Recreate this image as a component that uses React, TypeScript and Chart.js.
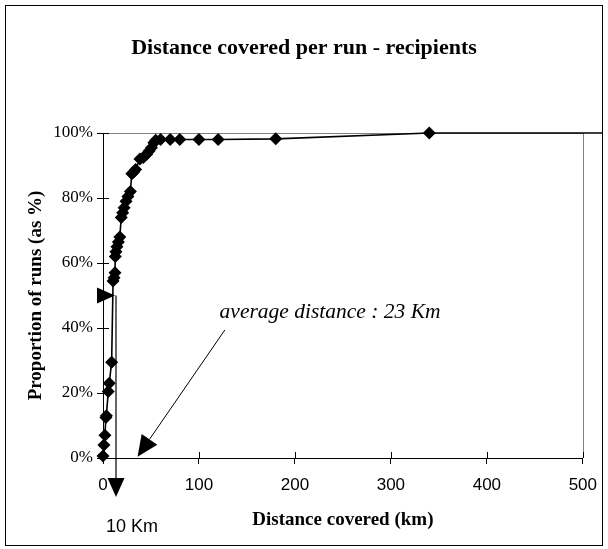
import React, { useEffect, useRef } from 'react';
import { Chart, registerables } from 'chart.js';

Chart.register(...registerables);

// ---- data ----
const distanceKm = [0, 1, 2, 3, 3.5, 5.5, 6.5, 9, 10.5, 11.5, 12.5, 12.8, 13.5, 14.5, 16, 17.5, 19, 20.5, 22, 24, 26, 28.5, 30, 32, 34, 38.5, 42, 45.5, 48, 50.5, 53, 55, 60, 70, 80, 100, 120, 180, 340, 520];
const cumulativePct = [0.6, 4, 7, 12.5, 13, 20.5, 23, 29.5, 54.5, 55.5, 57, 62, 63.5, 65, 66.5, 68, 74, 75.5, 77, 79, 80.5, 82, 87.5, 88, 88.8, 92, 92.5, 93.5, 94.5, 95.5, 97, 97.8, 98, 98, 98, 98, 98, 98.2, 100, 100];
const xTicks = [0, 100, 200, 300, 400, 500];
const yTicks = [0, 20, 40, 60, 80, 100];

const titleText = 'Distance covered per run - recipients';
const xTitle = 'Distance covered (km)';
const yTitle = 'Proportion of runs (as %)';
const avgLabel = 'average distance : 23 Km';
const medianLabel = '10 Km';

// annotation anchors in data units
const medianMarkKm = 12.5;
const medianPct = 50;
const avgArrowFrom = [127, 39.4];
const avgArrowTo = [36, 0.4];
const avgTextAt = [121.5, 43];

const W = 608;
const H = 549;

function tri(ctx: CanvasRenderingContext2D, pts: number[][]) {
  ctx.beginPath();
  ctx.moveTo(pts[0][0], pts[0][1]);
  ctx.lineTo(pts[1][0], pts[1][1]);
  ctx.lineTo(pts[2][0], pts[2][1]);
  ctx.closePath();
  ctx.fill();
}

const annotPlugin = {
  id: 'annot',
  beforeDatasetsDraw(chart: any) {
    const { ctx, chartArea: a } = chart;
    const xs = chart.scales.x;
    const ys = chart.scales.y;
    ctx.save();
    ctx.lineWidth = 1;
    ctx.strokeStyle = '#808080';
    ctx.beginPath();
    ctx.moveTo(a.left, Math.round(a.top) + 0.5);
    ctx.lineTo(Math.round(a.right) + 0.5, Math.round(a.top) + 0.5);
    ctx.lineTo(Math.round(a.right) + 0.5, a.bottom);
    ctx.stroke();
    ctx.strokeStyle = '#000';
    ctx.beginPath();
    xTicks.forEach((v) => {
      const px = Math.round(xs.getPixelForValue(v)) + 0.5;
      ctx.moveTo(px, a.bottom);
      ctx.lineTo(px, a.bottom - 6);
    });
    yTicks.forEach((v) => {
      const py = Math.round(ys.getPixelForValue(v)) + 0.5;
      ctx.moveTo(a.left, py);
      ctx.lineTo(a.left + 6, py);
    });
    ctx.stroke();
    ctx.restore();
  },
  afterDraw(chart: any) {
    const { ctx, chartArea: a } = chart;
    const xs = chart.scales.x;
    const ys = chart.scales.y;
    ctx.save();
    // outer frame
    ctx.strokeStyle = '#000';
    ctx.lineWidth = 1;
    ctx.strokeRect(5.5, 5.5, W - 11, H - 9);

    ctx.fillStyle = '#000';
    // chart title, centred on the whole frame
    ctx.font = 'bold 22px "Liberation Serif", "Times New Roman", serif';
    ctx.textAlign = 'center';
    ctx.textBaseline = 'middle';
    ctx.fillText(titleText, W / 2, 48);

    // median: horizontal arrow from y-axis at 50%
    const my = ys.getPixelForValue(medianPct);
    const mx = xs.getPixelForValue(medianMarkKm);
    tri(ctx, [[a.left - 6, my - 8], [a.left - 6, my + 8], [mx, my]]);
    ctx.lineWidth = 1.2;
    ctx.beginPath();
    ctx.moveTo(mx + 1, my);
    ctx.lineTo(mx + 1, a.bottom + 24);
    ctx.stroke();
    tri(ctx, [[mx + 1 - 8.5, a.bottom + 20], [mx + 1 + 8.5, a.bottom + 20], [mx + 1, a.bottom + 39]]);
    ctx.font = '18px "Liberation Sans", Arial, sans-serif';
    ctx.textAlign = 'left';
    ctx.textBaseline = 'alphabetic';
    ctx.fillText(medianLabel, mx - 9, a.bottom + 74);

    // average arrow
    const x0 = xs.getPixelForValue(avgArrowFrom[0]);
    const y0 = ys.getPixelForValue(avgArrowFrom[1]);
    const x1 = xs.getPixelForValue(avgArrowTo[0]);
    const y1 = ys.getPixelForValue(avgArrowTo[1]);
    const dx = x1 - x0;
    const dy = y1 - y0;
    const len = Math.hypot(dx, dy);
    const ux = dx / len;
    const uy = dy / len;
    const headLen = 21;
    const headHalf = 9.5;
    const bx = x1 - ux * headLen;
    const by = y1 - uy * headLen;
    ctx.lineWidth = 1;
    ctx.beginPath();
    ctx.moveTo(x0, y0);
    ctx.lineTo(bx, by);
    ctx.stroke();
    tri(ctx, [[x1, y1], [bx - uy * headHalf, by + ux * headHalf], [bx + uy * headHalf, by - ux * headHalf]]);

    ctx.font = 'italic 21.5px "Liberation Serif", "Times New Roman", serif';
    ctx.textAlign = 'left';
    ctx.fillText(avgLabel, xs.getPixelForValue(avgTextAt[0]), ys.getPixelForValue(avgTextAt[1]));
    ctx.restore();
  },
};

export default function App() {
  const ref = useRef<HTMLCanvasElement | null>(null);
  useEffect(() => {
    if (!ref.current) return;
    const chart = new Chart(ref.current, {
      type: 'scatter',
      data: {
        datasets: [
          {
            data: distanceKm.map((d, i) => ({ x: d, y: cumulativePct[i] })),
            showLine: true,
            borderColor: '#000',
            borderWidth: 1.6,
            backgroundColor: '#000',
            pointStyle: 'rectRot',
            pointRadius: distanceKm.map((d) => (d > 500 ? 0 : 6.5)),
            pointHoverRadius: 6.5,
            pointBorderWidth: 0,
            clip: false as any,
          },
        ],
      },
      options: {
        responsive: false,
        animation: false,
        events: [],
        layout: { padding: { left: 0, right: 25, top: 133, bottom: 0 } },
        plugins: {
          legend: { display: false },
          tooltip: { enabled: false },
          title: { display: false },
        },
        scales: {
          x: {
            type: 'linear',
            min: 0,
            max: 500,
            afterBuildTicks: (s: any) => {
              s.ticks = xTicks.map((v) => ({ value: v }));
            },
            afterFit: (s: any) => {
              s.height = 91;
            },
            ticks: {
              color: '#000',
              font: { family: '"Liberation Sans", Arial, sans-serif', size: 17 },
              padding: 11,
              maxRotation: 0,
            },
            grid: { display: true, drawOnChartArea: false, drawTicks: true, tickLength: 6, color: '#000' },
            border: { display: true, color: '#000', width: 1 },
            title: {
              display: true,
              text: xTitle,
              color: '#000',
              font: { family: '"Liberation Serif", "Times New Roman", serif', size: 19, weight: 'bold' },
              padding: { top: 0, bottom: 18 },
            },
          },
          y: {
            type: 'linear',
            min: 0,
            max: 100,
            afterBuildTicks: (s: any) => {
              s.ticks = yTicks.map((v) => ({ value: v }));
            },
            afterFit: (s: any) => {
              s.width = 103;
            },
            ticks: {
              color: '#000',
              font: { family: '"Liberation Serif", "Times New Roman", serif', size: 17 },
              padding: 4,
              callback: (v: any) => v + '%',
            },
            grid: { display: true, drawOnChartArea: false, drawTicks: true, tickLength: 6, color: '#000' },
            border: { display: true, color: '#000', width: 1 },
            title: {
              display: true,
              text: yTitle,
              color: '#000',
              font: { family: '"Liberation Serif", "Times New Roman", serif', size: 19, weight: 'bold' },
              padding: { top: 25, bottom: 0 },
            },
          },
        },
      },
      plugins: [annotPlugin],
    });
    return () => chart.destroy();
  }, []);
  return (
    <div style={{ position: 'fixed', left: 0, top: 0, width: W, height: H, background: '#fff' }}>
      <canvas ref={ref} width={W} height={H} style={{ display: 'block', width: W, height: H }} />
    </div>
  );
}
